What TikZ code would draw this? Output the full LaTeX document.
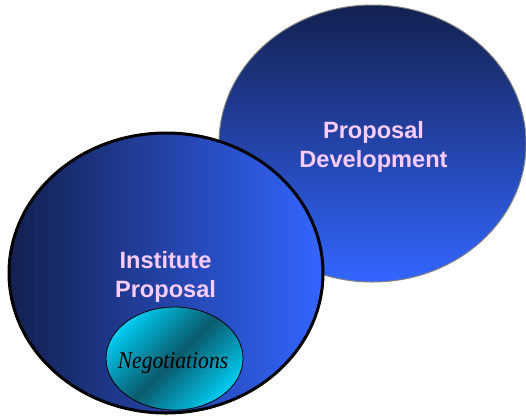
\documentclass[tikz,border=0pt]{standalone}
\usepackage{fontspec}
\setmainfont{Liberation Serif}
\newfontfamily\arialfam{Liberation Sans}
\usetikzlibrary{shapes.geometric}
\definecolor{navy}{HTML}{13204F}
\definecolor{brightblue}{HTML}{3366FF}
\definecolor{pinktxt}{HTML}{FFCCFF}
\definecolor{cyanl}{HTML}{00CCF2}
\definecolor{tealdk}{HTML}{0A5A6C}
\begin{document}
\begin{tikzpicture}[x=1pt,y=-1pt,
  blob/.style={ellipse, inner sep=0pt, outer sep=0pt},
  lbl/.style={font=\arialfam\bfseries\fontsize{23.6}{29}\selectfont, text=pinktxt, align=center, inner sep=0pt}]
\useasboundingbox (0,0) rectangle (526,418);
\node[blob, minimum width=307pt, minimum height=277pt, draw=gray, line width=1pt,
      top color=navy, bottom color=brightblue] (pd) at (372.5,143.5) {};
\node[lbl] (pdl) at (373.5,146.4) {Proposal\\Development};
\node[blob, minimum width=314pt, minimum height=280pt, draw=black, line width=3pt,
      left color=navy, right color=brightblue] (ip) at (166,273) {};
\node[lbl] (ipl) at (165.5,276.5) {Institute\\Proposal};
\node[blob, minimum width=137pt, minimum height=103pt, draw=black, line width=0.8pt,
      top color=cyanl, bottom color=cyanl, middle color=tealdk, shading angle=45] (ng) at (174.5,358.5) {};
\node[anchor=base, inner sep=0pt, font=\itshape\fontsize{24}{28}\selectfont] (ngl) at (173,368) {\scalebox{0.9}[1]{Negotiations}};
\end{tikzpicture}
\end{document}
